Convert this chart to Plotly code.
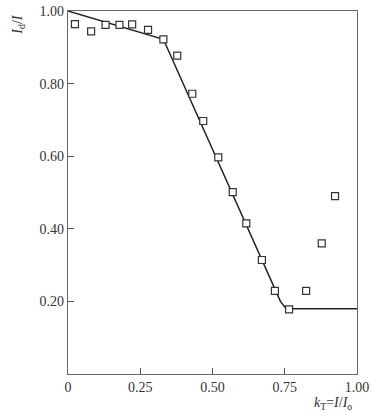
import plotly.graph_objects as go

# measured points (k_T, Id/I)
kt_pts = [0.024, 0.08, 0.13, 0.178, 0.222, 0.277, 0.330, 0.378, 0.430, 0.468,
          0.520, 0.570, 0.617, 0.671, 0.716, 0.765, 0.824, 0.878, 0.924]
ratio_pts = [0.964, 0.944, 0.962, 0.962, 0.963, 0.948, 0.922, 0.877, 0.772, 0.697,
             0.597, 0.501, 0.415, 0.314, 0.229, 0.178, 0.229, 0.360, 0.490]

# fitted curve
kt_line = [0.0, 0.330, 0.735, 0.755, 1.0]
ratio_line = [1.0, 0.922, 0.200, 0.180, 0.180]

x_ticks = [0, 0.25, 0.5, 0.75, 1.0]
x_labels = ["0", "0.25", "0.50", "0.75", "1.00"]
y_ticks = [0.2, 0.4, 0.6, 0.8, 1.0]
y_labels = ["0.20", "0.40", "0.60", "0.80", "1.00"]

font = dict(family="Liberation Serif, DejaVu Serif, serif", size=14, color="#333")

fig = go.Figure()
fig.add_trace(go.Scatter(x=kt_line, y=ratio_line, mode="lines",
                         line=dict(color="#222", width=1.5), showlegend=False,
                         cliponaxis=False))
fig.add_trace(go.Scatter(x=kt_pts, y=ratio_pts, mode="markers",
                         marker=dict(symbol="square", size=7, color="white",
                                     line=dict(color="#333", width=1.2)),
                         showlegend=False))

fig.update_layout(
    width=371, height=418,
    margin=dict(l=68, r=14, t=11, b=44, autoexpand=False),
    plot_bgcolor="white", paper_bgcolor="white",
    font=font,
    xaxis=dict(range=[0, 1.0], tickvals=x_ticks, ticktext=x_labels,
               showgrid=False, zeroline=False, showline=True, mirror=True,
               linecolor="#666", linewidth=1.2, ticks="inside", ticklen=6,
               tickcolor="#555", tickfont=font, automargin=False),
    yaxis=dict(range=[0, 1.0], tickvals=y_ticks, ticktext=y_labels,
               showgrid=False, zeroline=False, showline=True, mirror=True,
               linecolor="#666", linewidth=1.2, ticks="inside", ticklen=6,
               tickcolor="#555", tickfont=font, automargin=False),
    annotations=[
        dict(text="<i>I</i><sub>d</sub>/<i>I</i>", textangle=-90,
             xref="paper", yref="paper", x=-0.17, y=0.962,
             xanchor="center", yanchor="middle", showarrow=False,
             font=dict(family=font["family"], size=14, color="#333")),
        dict(text="<i>k</i><sub>T</sub>=<i>I</i>/<i>I</i><sub>o</sub>",
             xref="paper", yref="paper", x=0.917, y=-0.08,
             xanchor="center", yanchor="middle", showarrow=False,
             font=dict(family=font["family"], size=14, color="#333")),
    ],
)

fig.write_html("out.html")
